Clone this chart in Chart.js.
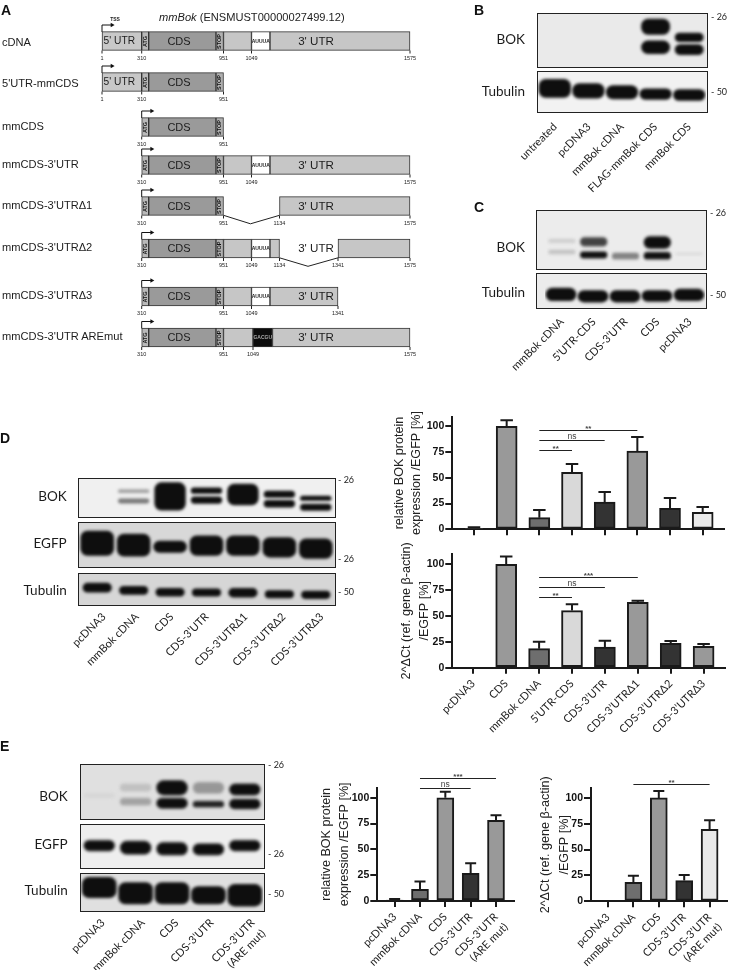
<!DOCTYPE html>
<html>
<head>
<meta charset="utf-8">
<title>mmBok constructs</title>
<script src="https://cdn.jsdelivr.net/npm/chart.js@4/dist/chart.umd.js"></script>
<style>
  html, body { margin: 0; padding: 0; background: #fff; }
  #page { position: relative; width: 736px; height: 970px; overflow: hidden; filter: blur(0.3px); }
  #page canvas { position: absolute; }
  .txt { position: absolute; white-space: pre; color: #1c1c1c; line-height: 1; }
  .letter { font: bold 14px "Liberation Sans"; color: #111; }
  .rowname { font: 11.1px "Liberation Sans"; }
  .blotname { font: 13.5px Lato; transform: translateY(-50%); }
  .marker { font: 9px Lato; transform: translateY(-50%); }
  .lane { font: 11px Lato; text-align: right; transform-origin: right top; transform: rotate(-45deg); line-height: 15px; }
  .blot { position: absolute; box-sizing: border-box; border: 1.6px solid #222; }
</style>
</head>
<body>
<div id="page"></div>
<script>
// ---- panel A, schematic positions along the construct
const TSS = 102, ATG = 141.7, ATGEND = 148.7, STOP = 216, END = 223.5;
const ARE = 251.5, AREEND = 270, DEL1 = 279.5, DEL2 = 338, TAIL = 410;
const ntValues = [1, 310, 951, 1049, 1134, 1341, 1575];
const ntX = [TSS, ATG, END, ARE, DEL1, DEL2, TAIL];

const core = [["atg", ATG, ATGEND], ["cds", ATGEND, STOP], ["stop", STOP, END]];
const fiveUtr = [["u5", TSS, ATG]];
const threeUtr = [["u3", END, ARE], ["are", ARE, AREEND], ["u3", AREEND, TAIL]];

const rowNames = ["cDNA", "5'UTR-mmCDS", "mmCDS", "mmCDS-3'UTR", "mmCDS-3'UTRΔ1", "mmCDS-3'UTRΔ2", "mmCDS-3'UTRΔ3", "mmCDS-3'UTR AREmut"];
const rowCenters = [41, 82, 127, 165, 206, 248.5, 296.5, 337.5];
const rowSegments = [
  [...fiveUtr, ...core, ...threeUtr],
  [...fiveUtr, ...core],
  core,
  [...core, ...threeUtr],
  [...core, ["u3", DEL1, TAIL]],
  [...core, ["u3", END, ARE], ["are", ARE, AREEND], ["u3", AREEND, DEL1], ["u3", DEL2, TAIL]],
  [...core, ["u3", END, ARE], ["are", ARE, AREEND], ["u3", AREEND, DEL2]],
  [...core, ["u3", END, 253], ["mut", 253, 272.5], ["u3", 272.5, TAIL]],
];
const rowNts = [
  [1, 310, 951, 1049, 1575],
  [1, 310, 951],
  [310, 951],
  [310, 951, 1049, 1575],
  [310, 951, 1134, 1575],
  [310, 951, 1049, 1134, 1341, 1575],
  [310, 951, 1049, 1341],
  [310, 951, 1049, 1575],
];
const rowsWithUtrText = [0, 3, 4, 5, 6, 7];
const deletions = [
  [4, END, 250.5, DEL1],
  [5, DEL1, 308, DEL2],
];
const segColors = { u5: "#c8c8c8", atg: "#b9b9b9", cds: "#9a9a9a", stop: "#b0b0b0", u3: "#c6c6c6", are: "#ffffff", mut: "#0c0c0c" };

// ---- panel D, bars
const dCats = ["pcDNA3", "CDS", "mmBok cDNA", "5’UTR-CDS", "CDS-3’UTR", "CDS-3’UTRΔ1", "CDS-3’UTRΔ2", "CDS-3’UTRΔ3"];
const dProtein = [1, 100, 11.3, 55.3, 26.5, 76, 20.4, 16.5];
const dProteinErr = [2, 105.8, 18.8, 63.4, 36.2, 89.6, 30.4, 21.7];
const dProteinFill = ["#555555", "#999999", "#6e6e6e", "#d9d9d9", "#333333", "#999999", "#333333", "#ebebeb"];
const dProteinSig = [[2, 5, 96.3, "**"], [2, 4, 87, "ns"], [2, 3, 76.5, "**"]];
const dMrna = [0, 100, 18.4, 55.2, 20, 63.2, 23.5, 20.6];
const dMrnaErr = [0, 107.4, 25.2, 61.3, 26.1, 64.8, 25.8, 22.9];
const dMrnaFill = ["#555555", "#999999", "#6e6e6e", "#d9d9d9", "#333333", "#999999", "#333333", "#999999"];
const dMrnaSig = [[2, 5, 88, "***"], [2, 4, 77.7, "ns"], [2, 3, 68.7, "**"]];

// ---- panel E, bars
const eCats = ["pcDNA3", "mmBok cDNA", "CDS", "CDS-3’UTR", ["CDS-3’UTR", "(ARE mut)"]];
const eProtein = [1, 11.3, 100, 26.8, 78];
const eProteinErr = [2, 19, 105.8, 36.5, 83];
const eProteinFill = ["#555555", "#6e6e6e", "#999999", "#333333", "#999999"];
const eProteinSig = [[1, 4, 118.7, "***"], [1, 3, 109.4, "ns"]];
const eMrna = [0, 18.4, 100, 20, 69.7];
const eMrnaErr = [0, 24.8, 106.8, 25.5, 78.4];
const eMrnaFill = ["#555555", "#6e6e6e", "#999999", "#333333", "#e9e9e9"];
const eMrnaSig = [[1, 4, 113.9, "**"]];

// ---- blots: band extents in % of the panel height, density 0..1
const bLanes = ["untreated", "pcDNA3", "mmBok cDNA", "FLAG-mmBok CDS", "mmBok CDS"];
const bBokUpper = [null, null, null, [9, 40], [36, 54]];
const bBokLower = [null, null, null, [51, 77], [58, 79]];
const bTubulin = [[18, 66], [29, 68], [34, 70], [42, 71], [44, 74]];

const cLanes = ["mmBok cDNA", "5’UTR-CDS", "CDS-3’UTR", "CDS", "pcDNA3"];
const cBokUpper = [[49, 56], [46, 62], null, [44, 66], null];
const cBokUpperDensity = [0.1, 0.75, 0, 1, 0];
const cBokLower = [[68, 76], [71, 83], [73, 85], [72, 85], [73, 77]];
const cBokLowerDensity = [0.14, 1, 0.45, 1, 0.05];
const cTubulin = [[42, 82], [49, 86], [49, 86], [49, 84], [45, 82]];

const dLanes = ["pcDNA3", "mmBok cDNA", "CDS", "CDS-3’UTR", "CDS-3’UTRΔ1", "CDS-3’UTRΔ2", "CDS-3’UTRΔ3"];
const dBokUpper = [null, [28, 38], [9, 85], [23, 40], [13, 71], [32, 51], [45, 59]];
const dBokUpperDensity = [0, 0.3, 1, 1, 1, 1, 1];
const dBokLower = [null, [53, 66], null, [47, 67], null, [57, 77], [67, 86]];
const dBokLowerDensity = [0, 0.5, 0, 1, 0, 1, 1];
const dEgfp = [[18, 76], [25, 78], [41, 69], [29, 76], [29, 76], [33, 80], [36, 83]];
const dTubulin = [[29, 62], [40, 69], [47, 75], [48, 75], [47, 78], [54, 81], [56, 83]];

const eLanes = ["pcDNA3", "mmBok cDNA", "CDS", "CDS-3’UTR", "CDS-3’UTR\n(ARE mut)"];
const eBokUpper = [null, [35, 50], [29, 57], [32, 54], [35, 57]];
const eBokUpperDensity = [0, 0.15, 1, 0.35, 1];
const eBokLower = [[53, 62], [62, 76], [62, 82], [68, 80], [64, 83]];
const eBokLowerDensity = [0.05, 0.3, 1, 0.92, 1];
const eEgfp = [[36, 62], [38, 70], [41, 72], [44, 72], [36, 62]];
const eTubulin = [[8, 67], [23, 84], [23, 84], [34, 84], [28, 90]];

const page = document.getElementById("page");
const TICK_FONT = "Lato";
const INK = "#1a1a1a";

function text(str, cls, x, y, extra) {
  const el = document.createElement("div");
  el.className = "txt " + cls;
  el.textContent = str;
  el.style.left = x + "px";
  el.style.top = y + "px";
  if (extra) Object.assign(el.style, extra);
  page.appendChild(el);
  return el;
}

function addCanvas(parent, left, top, w, h) {
  const c = document.createElement("canvas");
  c.width = w;
  c.height = h;
  c.style.left = left + "px";
  c.style.top = top + "px";
  c.style.width = w + "px";
  c.style.height = h + "px";
  parent.appendChild(c);
  return c;
}

function drawDiagram() {
  const segs = [];
  rowSegments.forEach((row, r) => {
    row.forEach(([kind, from, to]) => segs.push({ x: [from, to], y: rowCenters[r], kind }));
  });
  const lineSets = [];
  deletions.forEach(([r, a, mid, b]) => {
    const y = rowCenters[r] + 9.3;
    lineSets.push({
      type: "line",
      data: [{ x: a, y }, { x: mid, y: y + 8.5 }, { x: b, y }],
      borderColor: "#222", borderWidth: 1, pointRadius: 0, tension: 0,
    });
  });
  rowCenters.forEach((cy, r) => {
    const x0 = r < 2 ? TSS : ATG;
    lineSets.push({
      type: "line",
      data: [{ x: x0, y: cy - 9 }, { x: x0, y: cy - 16 }, { x: x0 + 10, y: cy - 16 }],
      borderColor: "#111", borderWidth: 1, tension: 0,
      pointStyle: "triangle", pointRotation: 90, backgroundColor: "#111",
      pointRadius: [0, 0, 2.6], pointBorderWidth: 0,
    });
  });

  const labels = {
    id: "labels",
    afterDatasetsDraw(chart) {
      const { ctx, scales: { x, y } } = chart;
      const label = (s, px, py, font, color, rot) => {
        ctx.save();
        ctx.translate(px, py);
        if (rot) ctx.rotate(rot);
        ctx.font = font;
        ctx.fillStyle = color || "#1c1c1c";
        ctx.textAlign = "center";
        ctx.textBaseline = "middle";
        ctx.fillText(s, 0, 0);
        ctx.restore();
      };
      rowSegments.forEach((row, r) => {
        const cy = y.getPixelForValue(rowCenters[r]) + 0.5;
        row.forEach(([kind, from, to]) => {
          const mid = x.getPixelForValue((from + to) / 2);
          if (kind === "u5") label("5' UTR", x.getPixelForValue(119.3), cy, "10.2px 'Liberation Sans'");
          if (kind === "cds") label("CDS", x.getPixelForValue(179), cy, "11px 'Liberation Sans'");
          if (kind === "atg") label("ATG", mid, cy, "bold 5.5px 'Liberation Sans'", "#111", -Math.PI / 2);
          if (kind === "stop") label("STOP", mid, cy, "bold 5.5px 'Liberation Sans'", "#111", -Math.PI / 2);
          if (kind === "are") label("AUUUA", mid, cy, "bold 5px 'Liberation Sans'", "#222");
          if (kind === "mut") label("GACGU", mid, cy, "bold 5px 'Liberation Sans'", "#aaa");
        });
        if (rowsWithUtrText.includes(r)) label("3' UTR", x.getPixelForValue(316), cy, "11.6px 'Liberation Sans'");
        rowNts[r].forEach((nt) => {
          let nx = ntX[ntValues.indexOf(nt)];
          if (r === 7 && nt === 1049) nx = 253;
          const px = x.getPixelForValue(nx);
          ctx.strokeStyle = "#222";
          ctx.lineWidth = 1;
          ctx.beginPath();
          ctx.moveTo(px, cy + 9);
          ctx.lineTo(px, cy + 12);
          ctx.stroke();
          label(String(nt), px, cy + 16.5, "5.5px 'Liberation Sans'", "#222");
        });
      });
      label("TSS", x.getPixelForValue(115), y.getPixelForValue(19.5), "bold 5px 'Liberation Sans'", "#222");
    },
  };

  const canvas = addCanvas(page, 95, 15, 325, 350);
  new Chart(canvas, {
    data: {
      datasets: [
        {
          type: "bar",
          data: segs,
          indexAxis: "y",
          barThickness: 18.6,
          borderWidth: 1,
          borderColor: "#333",
          borderSkipped: false,
          backgroundColor: segs.map((s) => segColors[s.kind]),
        },
        ...lineSets,
      ],
    },
    options: {
      indexAxis: "y",
      responsive: false,
      animation: false,
      layout: { autoPadding: false },
      plugins: { legend: { display: false }, tooltip: { enabled: false } },
      scales: {
        x: { type: "linear", display: false, min: 95, max: 420, offset: false },
        y: { type: "linear", display: false, min: 15, max: 365, reverse: true, offset: false },
      },
    },
    plugins: [labels],
  });

  rowNames.forEach((name, r) => {
    text(name, "rowname", 2, rowCenters[r] + (r > 1 ? -1.5 : 1), { transform: "translateY(-50%)" });
  });
  const title = text("", "", 159, 11, { font: "11.1px 'Liberation Sans'" });
  title.innerHTML = "<i>mmBok</i> (ENSMUST00000027499.12)";
}

function drawBarChart(frame, cats, values, errs, fills, sig, title, showLabels) {
  const { left, top, right, bottom, axisX, axisTop, base, yTop, firstTick, step, barW, xRight, titlePad, capW } = frame;
  const w = right - left, h = bottom - top;
  const canvas = addCanvas(page, left, top, w, h);
  const xMin = -(firstTick - axisX) / step;
  const xMax = (xRight - firstTick) / step;

  const extras = {
    id: "extras",
    afterDatasetsDraw(chart) {
      const { ctx, scales: { x, y } } = chart;
      ctx.save();
      ctx.strokeStyle = INK;
      errs.forEach((e, i) => {
        if (e <= values[i]) return;
        const px = x.getPixelForValue(i);
        ctx.lineWidth = 2;
        ctx.beginPath();
        ctx.moveTo(px, y.getPixelForValue(values[i]));
        ctx.lineTo(px, y.getPixelForValue(e));
        ctx.moveTo(px - capW / 2, y.getPixelForValue(e));
        ctx.lineTo(px + capW / 2, y.getPixelForValue(e));
        ctx.stroke();
      });
      sig.forEach(([a, b, v, label]) => {
        const py = Math.round(y.getPixelForValue(v)) + 0.5;
        const x0 = x.getPixelForValue(a), x1 = x.getPixelForValue(b);
        ctx.lineWidth = 1;
        ctx.strokeStyle = "#222";
        ctx.beginPath();
        ctx.moveTo(x0, py);
        ctx.lineTo(x1, py);
        ctx.stroke();
        ctx.fillStyle = "#444";
        ctx.textAlign = "center";
        ctx.textBaseline = "alphabetic";
        ctx.font = label === "ns" ? "8.5px 'Liberation Sans'" : "bold 8px 'Liberation Sans'";
        ctx.fillText(label, (x0 + x1) / 2, py - (label === "ns" ? 2 : 0));
      });
      ctx.restore();
    },
  };

  new Chart(canvas, {
    type: "bar",
    data: {
      datasets: [{
        data: values.map((v, i) => ({ x: i, y: v })),
        backgroundColor: fills,
        borderColor: INK,
        borderWidth: 2,
        borderSkipped: false,
        barThickness: barW,
      }],
    },
    options: {
      responsive: false,
      animation: false,
      layout: { autoPadding: false, padding: { top: axisTop - top, right: right - xRight, left: 0, bottom: 0 } },
      plugins: { legend: { display: false }, tooltip: { enabled: false } },
      scales: {
        x: {
          type: "linear",
          min: xMin,
          max: xMax,
          offset: false,
          afterBuildTicks: (s) => { s.ticks = cats.map((_, i) => ({ value: i })); },
          afterFit: (s) => { s.height = bottom - base; },
          border: { color: INK, width: 2 },
          grid: { offset: false, drawOnChartArea: false, color: INK, lineWidth: 2, tickLength: 6 },
          ticks: {
            display: showLabels,
            autoSkip: false,
            maxRotation: 45,
            minRotation: 45,
            padding: 3,
            color: "#222",
            font: { family: TICK_FONT, size: 11, lineHeight: 1.3 },
            callback: (v) => cats[v],
          },
        },
        y: {
          min: 0,
          max: yTop,
          afterFit: (s) => { s.width = axisX - left; },
          border: { color: INK, width: 2 },
          grid: { drawOnChartArea: false, color: INK, lineWidth: 2, tickLength: 7 },
          ticks: {
            stepSize: 25,
            includeBounds: false,
            padding: 1,
            color: "#111",
            font: { family: "Liberation Sans", weight: "bold", size: 10.5 },
          },
          title: {
            display: true,
            text: title,
            color: "#222",
            padding: { top: titlePad, bottom: 0 },
            font: { family: "Liberation Sans", size: 12.6, lineHeight: frame.titleLh / 12.6 },
          },
        },
      },
    },
    plugins: [extras],
  });
}

const blur = {
  id: "blur",
  beforeDatasetsDraw(chart) {
    chart.ctx.save();
    chart.ctx.filter = "blur(1.5px)";
  },
  afterDatasetsDraw(chart) {
    chart.ctx.restore();
  },
};

function bandColor(d) {
  const g = Math.round(225 - d * (225 - 14));
  return `rgb(${g},${g},${g})`;
}

function drawBlot(box, bg, lanes, bandSets) {
  const wrap = document.createElement("div");
  wrap.className = "blot";
  Object.assign(wrap.style, {
    left: box.x + "px", top: box.y + "px", width: box.w + "px", height: box.h + "px", background: bg,
  });
  page.appendChild(wrap);
  const canvas = addCanvas(wrap, 0, 0, box.w - 3, box.h - 3);
  const chart = new Chart(canvas, {
    type: "bar",
    data: {
      labels: lanes,
      datasets: bandSets.map(({ bands, density, pct }) => ({
        data: bands,
        grouped: false,
        barPercentage: pct || 0.86,
        categoryPercentage: 1,
        borderRadius: 7,
        borderSkipped: false,
        borderWidth: 0,
        backgroundColor: bands.map((_, i) => bandColor(density ? density[i] : 1)),
      })),
    },
    options: {
      responsive: false,
      animation: false,
      layout: { padding: { left: box.padLeft || 0, right: box.padRight || 0, top: 0, bottom: 0 } },
      plugins: { legend: { display: false }, tooltip: { enabled: false } },
      scales: {
        x: { display: false },
        y: { display: false, min: 0, max: 100, reverse: true },
      },
    },
    plugins: [blur],
  });
  return { chart, left: box.x + 1.6 };
}

function laneLabels(blot, lanes, y, shift) {
  const { chart, left } = blot;
  lanes.forEach((name, i) => {
    const px = left + chart.scales.x.getPixelForValue(i) + (shift ? shift[i] : 0) - 6;
    const el = text(name, "lane", 0, y);
    el.style.left = "auto";
    el.style.right = 736 - px + "px";
  });
}

function blotLabels(names, ys, right, markers, markerX) {
  names.forEach((n, i) => {
    const el = text(n, "blotname", 0, ys[i]);
    el.style.left = "auto";
    el.style.right = 736 - right + "px";
  });
  markers.forEach(([label, y]) => text(label, "marker", markerX, y));
}

// panel letters
text("A", "letter", 1, 2);
text("B", "letter", 474, 2);
text("C", "letter", 474, 199);
text("D", "letter", 0, 430);
text("E", "letter", 0, 738);

drawDiagram();

// panel B
drawBlot({ x: 536.5, y: 13, w: 171, h: 55 }, "#eaeaea", bLanes, [
  { bands: bBokUpper }, { bands: bBokLower },
]);
const bTub = drawBlot({ x: 536.5, y: 70.5, w: 171, h: 42.5 }, "#f2f2f2", bLanes, [
  { bands: bTubulin, pct: 0.96 },
]);
laneLabels(bTub, bLanes, 119);
blotLabels(["BOK", "Tubulin"], [39, 91], 525, [["- 26", 16], ["- 50", 90.7]], 711);

// panel C
drawBlot({ x: 536, y: 210, w: 171, h: 59.5, padLeft: 9 }, "#ececec", cLanes, [
  { bands: cBokUpper, density: cBokUpperDensity },
  { bands: cBokLower, density: cBokLowerDensity },
]);
const cTub = drawBlot({ x: 536, y: 273, w: 171, h: 36, padLeft: 8 }, "#ececec", cLanes, [
  { bands: cTubulin, pct: 0.96 },
]);
laneLabels(cTub, cLanes, 314);
blotLabels(["BOK", "Tubulin"], [246.7, 291.7], 525, [["- 26", 212], ["- 50", 294]], 710);

// panel D
drawBlot({ x: 78, y: 478, w: 258, h: 40 }, "#f0f0f0", dLanes, [
  { bands: dBokUpper, density: dBokUpperDensity },
  { bands: dBokLower, density: dBokLowerDensity },
]);
drawBlot({ x: 78, y: 521.5, w: 258, h: 46.5 }, "#d8d8d8", dLanes, [{ bands: dEgfp, pct: 0.92 }]);
const dTub = drawBlot({ x: 78, y: 573, w: 258, h: 33 }, "#d6d6d6", dLanes, [{ bands: dTubulin, pct: 0.8 }]);
laneLabels(dTub, dLanes, 609, [6, 3, 1, 0, 2, 4, 5]);
blotLabels(["BOK", "EGFP", "Tubulin"], [496, 543.3, 590], 66.7, [["- 26", 479], ["- 26", 558], ["- 50", 591]], 338);

// panel E
drawBlot({ x: 80, y: 764, w: 184.5, h: 55.5 }, "#e0e0e0", eLanes, [
  { bands: eBokUpper, density: eBokUpperDensity },
  { bands: eBokLower, density: eBokLowerDensity },
]);
drawBlot({ x: 80, y: 824, w: 184.5, h: 44.5 }, "#eeeeee", eLanes, [{ bands: eEgfp, pct: 0.86 }]);
const eTub = drawBlot({ x: 80, y: 872.5, w: 184.5, h: 39 }, "#e0e0e0", eLanes, [{ bands: eTubulin, pct: 0.95 }]);
laneLabels(eTub, eLanes, 915, [3, 7, 5, 4, 8]);
blotLabels(["BOK", "EGFP", "Tubulin"], [796, 843.7, 890], 67.7, [["- 26", 764], ["- 26", 853], ["- 50", 892.7]], 268);

// bar panels
drawBarChart(
  { left: 390, top: 405, right: 736, bottom: 540, axisX: 452.3, axisTop: 416.7, base: 529.3, yTop: 109.3, firstTick: 474, step: 32.67, barW: 21, xRight: 724, titlePad: 1.5, titleLh: 17, capW: 12.5 },
  dCats, dProtein, dProteinErr, dProteinFill, dProteinSig,
  ["relative BOK protein", "expression /EGFP [%]"], false
);
drawBarChart(
  { left: 390, top: 535, right: 736, bottom: 770, axisX: 452.3, axisTop: 554, base: 667.7, yTop: 109.9, firstTick: 473.3, step: 32.9, barW: 21, xRight: 725, titlePad: 8, titleLh: 18, capW: 12.5 },
  dCats, dMrna, dMrnaErr, dMrnaFill, dMrnaSig,
  ["2^ΔCt (ref. gene β-actin)", "/EGFP [%]"], true
);
drawBarChart(
  { left: 318, top: 760, right: 520, bottom: 970, axisX: 377.3, axisTop: 787.7, base: 901, yTop: 109.7, firstTick: 394.7, step: 25.4, barW: 17, xRight: 514, titlePad: 0, titleLh: 17.5, capW: 11 },
  eCats, eProtein, eProteinErr, eProteinFill, eProteinSig,
  ["relative BOK protein", "expression /EGFP [%]"], true
);
drawBarChart(
  { left: 530, top: 760, right: 736, bottom: 970, axisX: 591, axisTop: 788.3, base: 901.3, yTop: 109.3, firstTick: 608, step: 25.4, barW: 17, xRight: 727, titlePad: 6, titleLh: 19, capW: 11 },
  eCats, eMrna, eMrnaErr, eMrnaFill, eMrnaSig,
  ["2^ΔCt (ref. gene β-actin)", "/EGFP [%]"], true
);
</script>
</body>
</html>
